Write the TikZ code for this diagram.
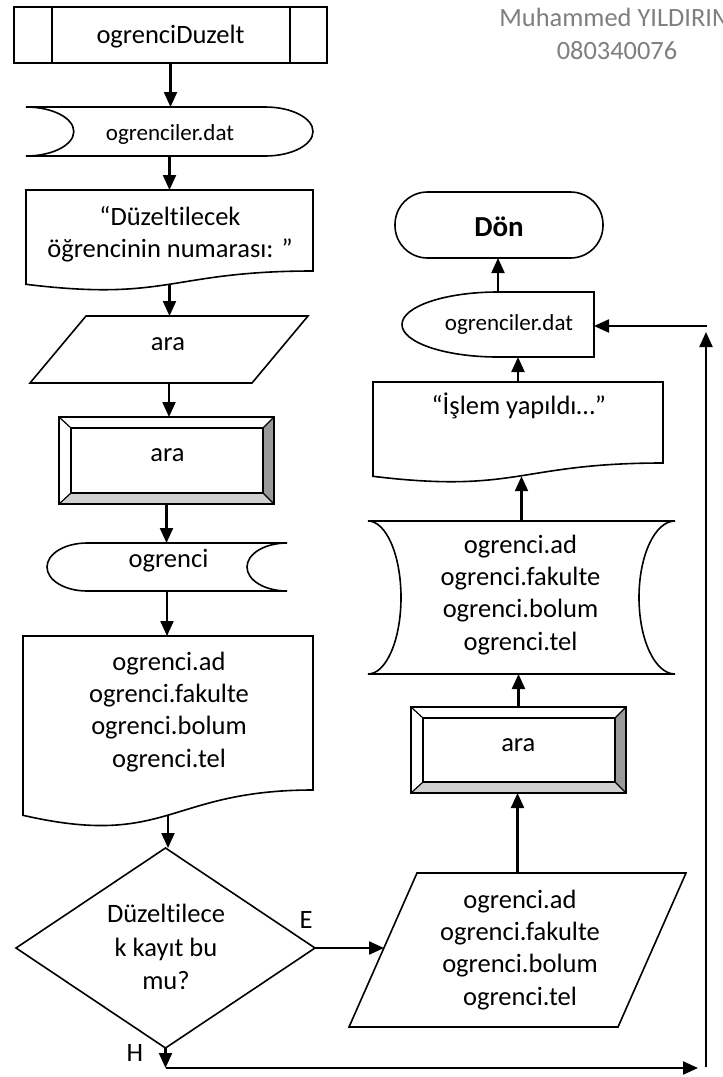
\documentclass[tikz,border=0pt]{standalone}
\usepackage{fontspec}
\setmainfont{Carlito}[Ligatures=NoCommon]
\usetikzlibrary{arrows.meta,calc}
\newcommand\mainf{\fontsize{26.5}{32.3}\selectfont}
\newcommand\smallf{\fontsize{23}{28}\selectfont}
\definecolor{bevdark}{RGB}{153,153,153}
\definecolor{bevlight}{RGB}{208,208,208}
\definecolor{graytxt}{RGB}{127,127,127}
\tikzset{
  shp/.style={draw=black, line width=1.6pt, line join=miter},
  thin shp/.style={draw=black, line width=1.2pt},
  arr/.style={line width=2.2pt, -{Triangle[length=15pt,width=13pt]}},
  bb/.style 2 args={inner sep=0pt, outer sep=0pt, minimum width=#1, minimum height=#2},
  txt/.style={font=\mainf, align=center, inner sep=0pt, anchor=base},
  stxt/.style={font=\smallf, align=center, inner sep=0pt, anchor=base},
}
\begin{document}
\begin{tikzpicture}[x=1pt,y=-1pt]
\useasboundingbox (0,0) rectangle (723,1077);
\fill[white] (0,0) rectangle (723,1077);

% ---------- bounding nodes ----------
\node[bb={313pt}{56pt}, shp] (A) at (170.5,35) {};
\node[bb={287pt}{49pt}] (B) at (169.5,131.5) {};
\node[bb={287pt}{94.2pt}] (C) at (169.5,237.1) {};
\node[bb={278pt}{67pt}] (D) at (169,349.5) {};
\node[bb={215pt}{87pt}] (F) at (166.5,460.5) {};
\node[bb={240pt}{48pt}] (E) at (167,567) {};
\node[bb={290pt}{179pt}] (G) at (168,725.5) {};
\node[bb={299pt}{200pt}] (Q) at (165.5,948) {};
\node[bb={337pt}{154pt}] (P) at (517.5,950) {};
\node[bb={215pt}{86pt}] (V) at (518.5,750) {};
\node[bb={307pt}{153pt}] (S) at (521.5,597.5) {};
\node[bb={290pt}{94.2pt}] (K) at (518,429.1) {};
\node[bb={192pt}{65pt}] (R) at (498,324.5) {};
\node[bb={208pt}{66pt}, shp, rounded corners=32.5pt] (T) at (499,225) {};

% ---------- shapes ----------
% predefined process inner lines
\draw[shp] (52,7) -- (52,63) (290,7) -- (290,63);
% stored data ogrenciler.dat (left concave, right convex)
\draw[shp] (26,107) -- (265.2,107) .. controls (291.6,107) and (313,118) .. (313,131.5)
  .. controls (313,145) and (291.6,156) .. (265.2,156) -- (26,156)
  .. controls (52.4,156) and (73.8,145) .. (73.8,131.5)
  .. controls (73.8,118) and (52.4,107) .. (26,107) -- cycle;
% document 1
\draw[shp] (26,190) -- (313,190) -- (313,271) .. controls (169.5,271) and (169.5,301.9) .. (26,284.3) -- cycle;
% parallelogram ara
\draw[shp] (86,316) -- (308,316) -- (252,383) -- (30,383) -- cycle;
% bevel 1
\fill[bevdark] (274,417) -- (274,504) -- (263,493) -- (263,428) -- cycle;
\fill[bevlight] (59,504) -- (274,504) -- (263,493) -- (71,493) -- cycle;
\draw[shp] (59,417) rectangle (274,504);
\draw[shp] (71,428) rectangle (263,493);
\draw[thin shp] (59,417) -- (71,428) (274,417) -- (263,428) (59,504) -- (71,493) (274,504) -- (263,493);
% stored data ogrenci (left convex, right concave)
\draw[shp] (87,543) -- (287,543) .. controls (264.9,543) and (247,553.7) .. (247,567)
  .. controls (247,580.3) and (264.9,591) .. (287,591) -- (87,591)
  .. controls (64.9,591) and (47,580.3) .. (47,567)
  .. controls (47,553.7) and (64.9,543) .. (87,543) -- cycle;
% document 2
\draw[shp] (23,636) -- (313,636) -- (313,790) .. controls (168,790) and (168,848.6) .. (23,815.3) -- cycle;
% diamond
\draw[shp] (Q.north) -- (Q.east) -- (Q.south) -- (Q.west) -- cycle;
% parallelogram right
\draw[shp] (417,873) -- (686,873) -- (618,1027) -- (349,1027) -- cycle;
% bevel 2
\fill[bevdark] (626,707) -- (626,793) -- (615,782) -- (615,718) -- cycle;
\fill[bevlight] (411,793) -- (626,793) -- (615,782) -- (423,782) -- cycle;
\draw[shp] (411,707) rectangle (626,793);
\draw[shp] (423,718) rectangle (615,782);
\draw[thin shp] (411,707) -- (423,718) (626,707) -- (615,718) (411,793) -- (423,782) (626,793) -- (615,782);
% stored data both sides concave
\draw[shp] (368,521) -- (675,521) .. controls (655.1,521) and (639,555.2) .. (639,597.5)
  .. controls (639,639.8) and (655.1,674) .. (675,674) -- (368,674)
  .. controls (386.2,674) and (401,639.8) .. (401,597.5)
  .. controls (401,555.2) and (386.2,521) .. (368,521) -- cycle;
% document 3
\draw[shp] (373,382) -- (663,382) -- (663,463) .. controls (518,463) and (518,493.9) .. (373,476.3) -- cycle;
% delay-type ogrenciler.dat
\draw[shp] (594,292) -- (498,292) .. controls (445,292) and (402,306.5) .. (402,324.5)
  .. controls (402,342.5) and (445,357) .. (498,357) -- (594,357) -- cycle;

% ---------- texts (multi-line nodes anchored on last baseline) ----------
\node[txt] (tA) at (170.5,43) {ogrenciDuzelt};
\node[stxt] (tB) at (170,140) {ogrenciler.dat};
\node[txt] (tC) at (170,257.5) {“Düzeltilecek\\öğrencinin numarası: ”};
\node[txt] (tD) at (168,350.7) {ara};
\node[txt] (tF) at (167.5,461.7) {ara};
\node[txt] (tE) at (168.5,567.5) {ogrenci};
\node[txt] (tG) at (169,767) {ogrenci.ad\\ogrenci.fakulte\\ogrenci.bolum\\ogrenci.tel};
\node[txt, font=\fontsize{26.5}{33.2}\selectfont] (tQ) at (166,989.3) {Düzeltilece\\k kayıt bu\\mu?};
\node[txt] (tE2) at (306,928) {E};
\node[txt] (tH) at (135,1061.7) {H};
\node[txt] (tP) at (520,1005) {ogrenci.ad\\ogrenci.fakulte\\ogrenci.bolum\\ogrenci.tel};
\node[txt] (tV) at (518.3,751.7) {ara};
\node[txt] (tS) at (520.5,650) {ogrenci.ad\\ogrenci.fakulte\\ogrenci.bolum\\ogrenci.tel};
\node[txt] (tK) at (518.8,414) {“İşlem yapıldı…”};
\node[stxt] (tR) at (509,330) {ogrenciler.dat};
\node[txt, font=\fontsize{29}{34}\selectfont\bfseries] (tT) at (499,236) {Dön};
\node[txt, text=graytxt, font=\fontsize{26.4}{32.6}\selectfont] (tN) at (617,59.3) {Muhammed YILDIRIM\\080340076};

% ---------- connectors ----------
\draw[arr] (A.south) -- (A.south |- B.north);
\draw[arr] (B.south) -- (B.south |- C.north);
\draw[arr] (C.south) -- (C.south |- D.north);
\draw[arr] (D.south) -- (D.south |- F.north);
\draw[arr] (F.south) -- (F.south |- E.north);
\draw[arr] (E.south) -- (E.south |- G.north);
\draw[arr] (G.south) -- (G.south |- Q.north);
\coordinate (p2w) at (384,948);
\draw[arr] (Q.east) -- (p2w);
\draw[arr] (P.north) -- (P.north |- V.south);
\draw[arr] (V.north) -- (V.north |- S.south);
\draw[arr] (S.north) -- (S.north |- K.south);
\draw[arr] (K.north) -- (K.north |- R.south);
\draw[arr] (R.north) -- (R.north |- T.south);
\coordinate (h1) at (166,1068);
\coordinate (h2) at (698,1068);
\coordinate (v1) at (706,1067);
\coordinate (v2) at (706,332);
\coordinate (h3) at (707,326);
\draw[arr] (Q.south) -- (Q.south |- h1);
\draw[arr] (h1) -- (h2);
\draw[arr] (v1) -- (v2);
\draw[arr] (h3) -- (h3 -| R.east);
\end{tikzpicture}
\end{document}
